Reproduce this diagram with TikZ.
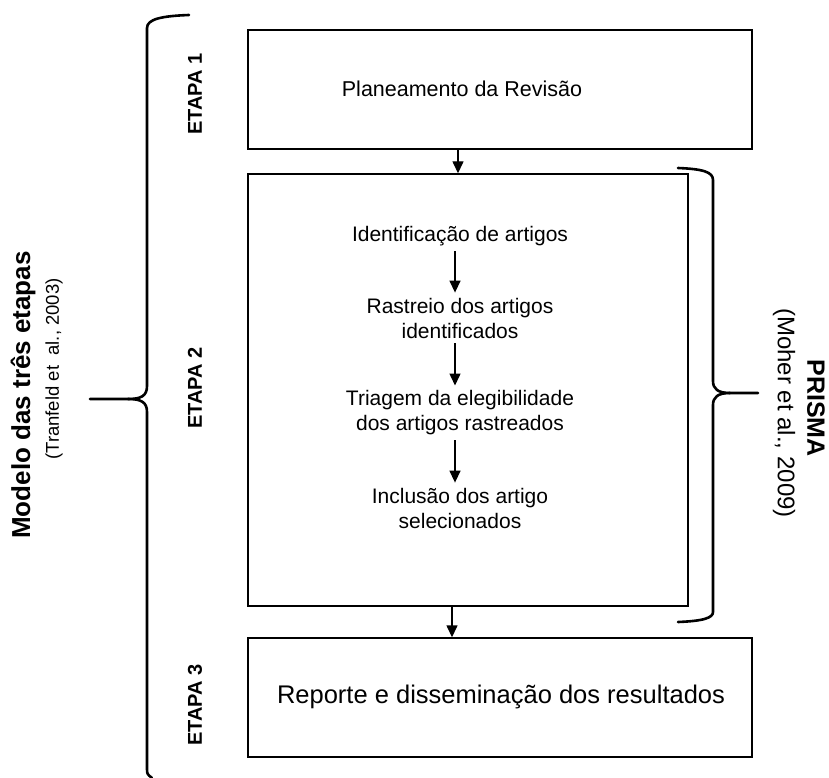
\documentclass[tikz,border=0pt]{standalone}
\usepackage{fontspec}
\setmainfont{Liberation Sans}
\usetikzlibrary{arrows.meta}
\begin{document}
\begin{tikzpicture}[x=1pt,y=-1pt,
  stagebox/.style={draw,line width=1.4pt,inner sep=0pt},
  steptext/.style={align=center,font=\fontsize{21}{25}\selectfont,inner xsep=0pt,inner ysep=5pt},
  stagelabel/.style={rotate=90,font=\fontsize{20}{24}\selectfont\bfseries},
  flow/.style={line width=1.4pt,-{Triangle[length=12pt,width=11pt]}},
  brace/.style={line width=2.6pt,line cap=round,line join=round}]
\useasboundingbox (0,0) rectangle (829,778);

% the three stages
\node[stagebox,minimum width=504pt,minimum height=119pt] (s1) at (500,89.5) {};
\node[stagebox,minimum width=440pt,minimum height=432pt] (s2) at (468,390) {};
\node[stagebox,minimum width=504pt,minimum height=119pt] (s3) at (500,697.5) {};

\node[steptext,font=\fontsize{21.5}{25}\selectfont] (plan) at (462,89) {Planeamento da Revisão};
\node[steptext,font=\fontsize{25.5}{30}\selectfont] (rep) at (501,697) {Reporte e disseminação dos resultados};

% PRISMA steps inside stage 2
\node[steptext] (t1) at (460,236) {Identificação de artigos};
\node[steptext] (t2) at (460,318) {Rastreio dos artigos\\identificados};
\node[steptext] (t3) at (460,413) {Triagem da elegibilidade\\dos artigos rastreados};
\node[steptext] (t4) at (460,508) {Inclusão dos artigo\\selecionados};

\draw[flow] ([xshift=-5pt]t1.south) -- ([xshift=-5pt]t2.north);
\draw[flow] ([xshift=-5pt]t2.south) -- ([xshift=-5pt]t3.north);
\draw[flow] ([xshift=-5pt]t3.south) -- ([xshift=-5pt]t4.north);

% links between the stages
\coordinate (a1) at ([xshift=-42pt]s1.south);
\coordinate (a2) at ([xshift=-16pt]s2.south);
\draw[flow] (a1) -- (a1 |- s2.north);
\draw[flow] (a2) -- (a2 |- s3.north);

% stage labels
\node[stagelabel] (e1) at (195,94) {ETAPA 1};
\node[stagelabel] (e2) at (195,388) {ETAPA 2};
\node[stagelabel] (e3) at (195,705) {ETAPA 3};

% left brace: three-stage model
\draw[brace] (189,15) .. controls (162,16) and (147,19) .. (147,28)
  -- (147,386) .. controls (147,396) and (141,399) .. (128,399) -- (90,399);
\draw[brace] (128,399) .. controls (141,399) and (147,402) .. (147,412)
  -- (147,768) .. controls (147,774) .. (152,778);
\node[rotate=90,font=\fontsize{26}{30}\selectfont\bfseries] (m1) at (23,395) {Modelo das três etapas};
\node[rotate=90,font=\fontsize{18.5}{22}\selectfont] (m2) at (54,369) {(Tranfeld et\ \ al., 2003)};

% right brace: PRISMA
\draw[brace] (678,168) .. controls (703,169) and (713,172) .. (713,180)
  -- (713,381) .. controls (713,389) and (718,393) .. (730,393) -- (758,393);
\draw[brace] (730,393) .. controls (718,393) and (713,397) .. (713,405)
  -- (713,612) .. controls (713,618) and (703,621) .. (678,622);
\node[rotate=-90,font=\fontsize{25}{30}\selectfont\bfseries] (p1) at (816,408) {PRISMA};
\node[rotate=-90,font=\fontsize{24}{28}\selectfont] (p2) at (784,413) {(Moher et al., 2009)};
\end{tikzpicture}
\end{document}
